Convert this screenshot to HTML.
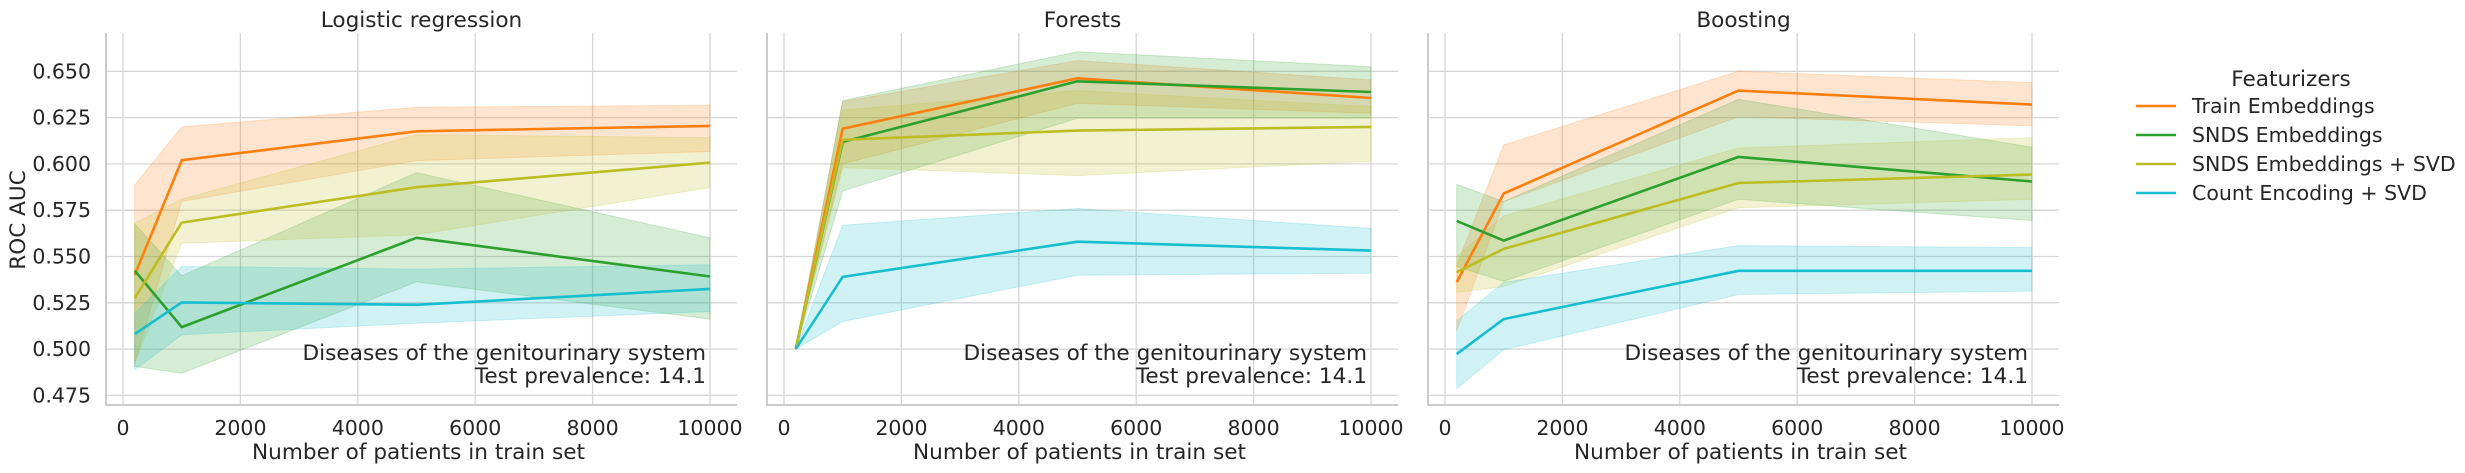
<!DOCTYPE html>
<html><head><meta charset="utf-8"><style>
html,body{margin:0;padding:0;background:#fff;}
svg{display:block;font-family:"DejaVu Sans","Liberation Sans",sans-serif;}
</style></head><body>
<svg id="chart" width="2465" height="473" viewBox="0 0 2465 473" xmlns="http://www.w3.org/2000/svg"></svg>
<script>
const xValues = [200, 1000, 5000, 10000];
const panelTitles = ["Logistic regression", "Forests", "Boosting"];
const seriesNames = ["Train Embeddings", "SNDS Embeddings", "SNDS Embeddings + SVD", "Count Encoding + SVD"];
const seriesColors = ["#ff7f0e", "#2ca02c", "#bcbd22", "#17becf"];
const xTicks = [0, 2000, 4000, 6000, 8000, 10000];
const yTicks = [0.475, 0.500, 0.525, 0.550, 0.575, 0.600, 0.625, 0.650];
const yTickLabels = ["0.475", "0.500", "0.525", "0.550", "0.575", "0.600", "0.625", "0.650"];

// Logistic regression
const lrMean = [[0.540,0.602,0.6176,0.6205],[0.5424,0.5119,0.5601,0.5392],[0.5275,0.5683,0.5874,0.6007],[0.5081,0.5252,0.5239,0.5325]];
const lrLow  = [[0.492,0.5797,0.6018,0.6067],[0.4906,0.4870,0.5363,0.5162],[0.4924,0.5572,0.5617,0.5872],[0.4888,0.5077,0.514,0.5203]];
const lrHigh = [[0.5887,0.620,0.6306,0.6317],[0.5676,0.5396,0.5953,0.5601],[0.568,0.581,0.6157,0.6142],[0.5194,0.5446,0.5432,0.5455]];
// Forests
const rfMean = [[0.500,0.619,0.6462,0.6356],[0.500,0.6119,0.6446,0.6388],[0.500,0.613,0.618,0.620],[0.500,0.539,0.558,0.5532]];
const rfLow  = [[0.500,0.600,0.6327,0.6273],[0.500,0.5854,0.6246,0.6246],[0.500,0.598,0.5937,0.6014],[0.500,0.5149,0.5399,0.541]];
const rfHigh = [[0.500,0.6336,0.6558,0.6453],[0.500,0.6342,0.6606,0.6525],[0.500,0.629,0.6396,0.6309],[0.500,0.5669,0.5759,0.5651]];
// Boosting
const gbMean = [[0.5362,0.584,0.6396,0.632],[0.5692,0.5586,0.6038,0.5905],[0.5415,0.5541,0.5897,0.5942],[0.4973,0.5162,0.5423,0.5423]];
const gbLow  = [[0.5095,0.5797,0.6255,0.6205],[0.5446,0.5365,0.5809,0.5694],[0.5306,0.5338,0.5763,0.5809],[0.4786,0.4996,0.5295,0.5313]];
const gbHigh = [[0.545,0.6103,0.650,0.6439],[0.589,0.5797,0.6349,0.609],[0.550,0.5719,0.6086,0.6142],[0.5153,0.536,0.5559,0.5548]];

const panels = [
  {mean: lrMean, low: lrLow, high: lrHigh},
  {mean: rfMean, low: rfLow, high: rfHigh},
  {mean: gbMean, low: gbLow, high: gbHigh}
];

const svg = document.getElementById('chart');
const NS = "http://www.w3.org/2000/svg";
function mk(tag, attrs, parent) {
  const e = document.createElementNS(NS, tag);
  for (const k in attrs) e.setAttribute(k, attrs[k]);
  (parent || svg).appendChild(e);
  return e;
}
const X0 = 123, XSCALE = (710 - 123) / 10000, PANEL_DX = 661;
function yOf(v) { return 71.3 + (0.650 - v) / 0.025 * 46.3; }

panels.forEach((p, pi) => {
  const off = pi * PANEL_DX;
  const xOf = v => X0 + off + v * XSCALE;
  const g = mk('g', {});
  
  
  const left = 106 + off, right = 737 + off, top = 33, bottom = 405;
  xTicks.forEach((t, i) => {
    const l = mk('line', {x1: xOf(t), x2: xOf(t), y1: top, y2: bottom, stroke: '#d6d6d6', 'stroke-width': 1.3}, g);
    
    
    const tx = mk('text', {x: xOf(t), y: 435, 'text-anchor': 'middle', 'font-size': 20.5, fill: '#262626'}, g);
    
    
    tx.textContent = String(t);
  });
  yTicks.forEach((t, i) => {
    const l = mk('line', {x1: left, x2: right, y1: yOf(t), y2: yOf(t), stroke: '#d6d6d6', 'stroke-width': 1.3}, g);
    
    
    if (pi === 0) {
      const tx = mk('text', {x: 91, y: yOf(t) + 7, 'text-anchor': 'end', 'font-size': 20.5, fill: '#262626'}, g);
      
      
      tx.textContent = yTickLabels[i];
    }
  });
  const sp1 = mk('line', {x1: left, x2: left, y1: top, y2: bottom + 1, stroke: '#cccccc', 'stroke-width': 2}, g);
  
  
  const sp2 = mk('line', {x1: left, x2: right, y1: bottom, y2: bottom, stroke: '#cccccc', 'stroke-width': 2}, g);
  
  
  p.mean.forEach((m, si) => {
    let d = '';
    xValues.forEach((xv, k) => { d += (k ? 'L' : 'M') + xOf(xv).toFixed(1) + ',' + yOf(p.high[si][k]).toFixed(1); });
    for (let k = xValues.length - 1; k >= 0; k--) d += 'L' + xOf(xValues[k]).toFixed(1) + ',' + yOf(p.low[si][k]).toFixed(1);
    const band = mk('path', {d: d + 'Z', fill: seriesColors[si], 'fill-opacity': 0.2, stroke: seriesColors[si], 'stroke-opacity': 0.2}, g);
    
    
  });
  p.mean.forEach((m, si) => {
    const pts = xValues.map((xv, k) => xOf(xv).toFixed(1) + ',' + yOf(m[k]).toFixed(1)).join(' ');
    const ln = mk('polyline', {points: pts, fill: 'none', stroke: seriesColors[si], 'stroke-width': 2.6, 'stroke-linejoin': 'round'}, g);
    
    
  });
  const tt = mk('text', {x: (left + right) / 2, y: 27, 'text-anchor': 'middle', 'font-size': 21.6, fill: '#262626'}, g);
  
  
  tt.textContent = panelTitles[pi];
  const a1 = mk('text', {x: 706 + off, y: 360, 'text-anchor': 'end', 'font-size': 21.6, fill: '#262626'}, g);
  
  
  a1.textContent = 'Diseases of the genitourinary system';
  const a2 = mk('text', {x: 706 + off, y: 383, 'text-anchor': 'end', 'font-size': 21.6, fill: '#262626'}, g);
  
  
  a2.textContent = 'Test prevalence: 14.1';
  const xl = mk('text', {x: (left + right) / 2 - 3, y: 459, 'text-anchor': 'middle', 'font-size': 21.6, fill: '#262626'}, g);
  
  
  xl.textContent = 'Number of patients in train set';
});

const yl = mk('text', {x: 0, y: 0, transform: 'translate(25,220) rotate(-90)', 'text-anchor': 'middle', 'font-size': 21.6, fill: '#262626'});


yl.textContent = 'ROC AUC';

const lg = mk('g', {});


const lt = mk('text', {x: 2291, y: 86, 'text-anchor': 'middle', 'font-size': 21.6, fill: '#262626'}, lg);


lt.textContent = 'Featurizers';
seriesNames.forEach((n, i) => {
  const y = 106 + i * 29;
  const l = mk('line', {x1: 2136, x2: 2176, y1: y, y2: y, stroke: seriesColors[i], 'stroke-width': 2.6}, lg);
  
  
  const t = mk('text', {x: 2192, y: y + 7, 'font-size': 20.5, fill: '#262626'}, lg);
  
  
  t.textContent = n;
});
</script>
</body></html>
